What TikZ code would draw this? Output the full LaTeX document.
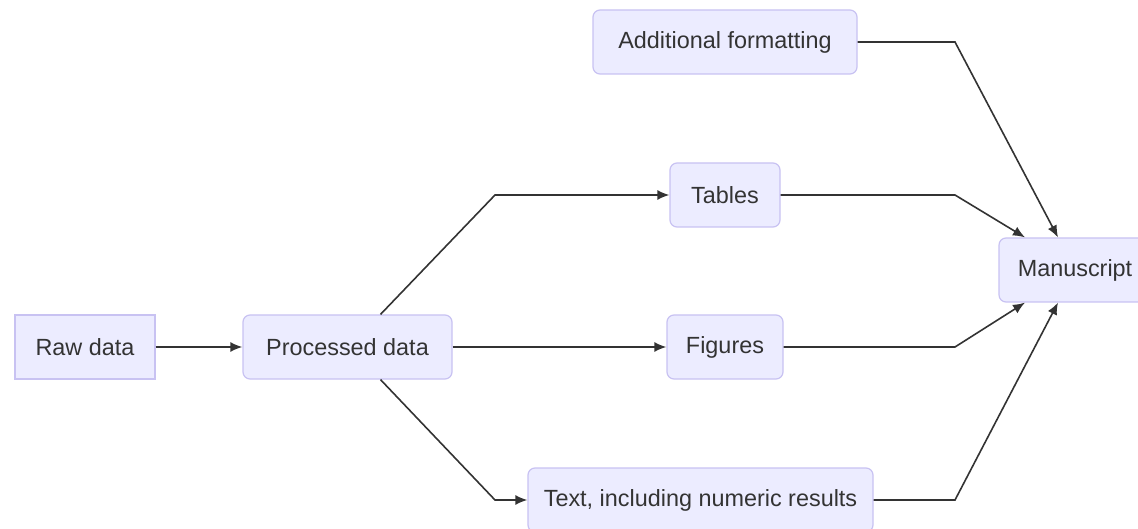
\documentclass[tikz,border=0pt]{standalone}
\usepackage{fontspec}
\setmainfont{Liberation Sans}
\usetikzlibrary{arrows.meta}
\definecolor{boxfill}{HTML}{ECECFF}
\definecolor{boxline}{HTML}{C8C2F2}
\definecolor{ink}{HTML}{333333}
\begin{document}
\begin{tikzpicture}[x=1pt, y=1pt,
    box/.style={draw=boxline, fill=boxfill, line width=1.2pt, rounded corners=7pt,
      minimum height=64pt, inner sep=0pt, text=ink,
      font=\fontsize{23.4}{28}\selectfont},
    sqbox/.style={box, rounded corners=0pt},
    link/.style={draw=ink, line width=1.6pt, -{Latex[length=12pt,width=10pt]}}]

    \useasboundingbox (0, 0) rectangle (1138, 528);

    \node[sqbox, minimum width=140pt] (raw) at (85, 181) {Raw data};
    \node[box, minimum width=209pt] (proc) at (347.5, 181) {Processed data};

    \node[box, minimum width=264pt] (fmt) at (725, 486) {Additional formatting};
    \node[box, minimum width=110pt] (tab) at (725, 333) {Tables};
    \node[box, minimum width=116pt] (fig) at (725, 181) {Figures};
    \node[box, minimum width=345pt] (txt) at (700.5, 28) {Text, including numeric results};

    \node[box, minimum width=152pt] (ms) at (1075, 258) {Manuscript};

    \coordinate (up) at (495, 333);
    \coordinate (down) at (495, 28);

    \path[link] (raw) to (proc);
    \path[link] ([xshift=33pt]proc.north) -- (up) -- (tab);
    \path[link] (proc) to (fig);
    \path[link] ([xshift=33pt]proc.south) -- (down) -- (txt);

    \path[link] (fmt.east) -- (955, 486) -- ([xshift=-17pt]ms.north);
    \path[link] (tab.east) -- (955, 333) -- ([xshift=-50pt]ms.north);
    \path[link] (fig.east) -- (955, 181) -- ([xshift=-50pt]ms.south);
    \path[link] (txt.east) -- (955, 28) -- ([xshift=-17pt]ms.south);

  \end{tikzpicture}
\end{document}
